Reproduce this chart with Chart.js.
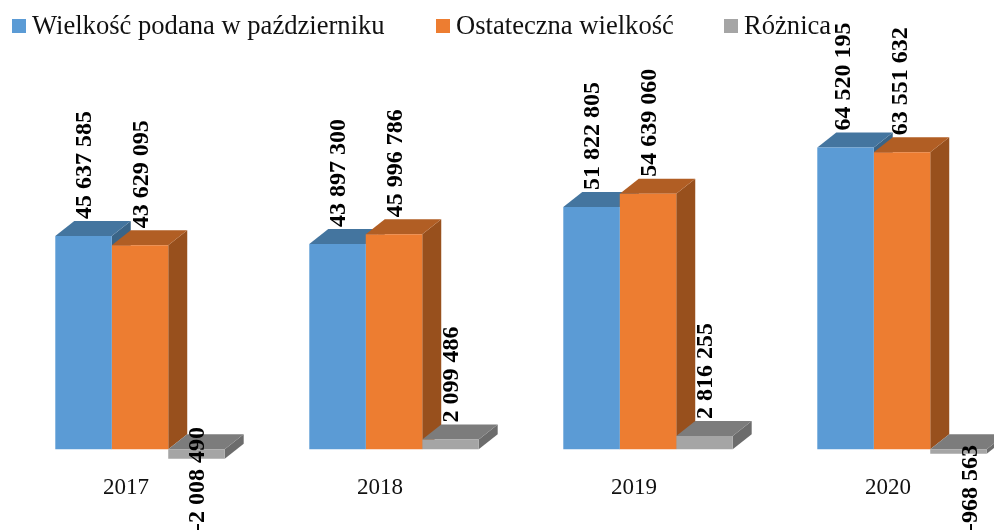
<!DOCTYPE html>
<html>
<head>
<meta charset="utf-8">
<style>html,body{margin:0;padding:0;background:#fff;overflow:hidden}#w{width:994px;height:530px}</style>
<script src="https://cdn.jsdelivr.net/npm/chart.js@4"></script>
</head>
<body>
<div id="w"><canvas id="c" width="994" height="530"></canvas></div>
<script>
const categories = ['2017', '2018', '2019', '2020'];
const seriesNames = ['Wielkość podana w październiku', 'Ostateczna wielkość', 'Różnica'];
const october = [45637585, 43897300, 51822805, 64520195];
const finalSize = [43629095, 45996786, 54639060, 63551632];
const difference = [-2008490, 2099486, 2816255, -968563];

const SERIF = '"Liberation Serif", "Times New Roman", serif';
const frontCols = ['#5B9BD5', '#ED7D31', '#A5A5A5'];
const topCols = ['#44759F', '#B15E24', '#7C7C7C'];
const sideCols = ['#3A6487', '#98501D', '#6C6C6C'];
const DX = 19, DY = 15;
const legendBoxX = [12, 436, 724];
const PLOT_RIGHT = 1029;

function fmt(v) {
  const s = String(Math.abs(v)).replace(/\B(?=(\d{3})+$)/g, ' ');
  return (v < 0 ? '-' : '') + s;
}
function poly(ctx, pts, col) {
  ctx.fillStyle = col;
  ctx.beginPath();
  pts.forEach((p, i) => i ? ctx.lineTo(p[0], p[1]) : ctx.moveTo(p[0], p[1]));
  ctx.closePath();
  ctx.fill();
}
function labelNudge(di, i) {
  if (i !== 3) return 1.5;
  return di === 2 ? 12 : -1.5;
}

const box3d = {
  id: 'box3d',
  afterLayout(chart) {
    // the plot runs past the right edge of the picture, as in the reference
    const x = chart.scales.x;
    x.right = PLOT_RIGHT;
    x.width = PLOT_RIGHT - x.left;
    x.configure();
  },
  beforeDatasetsDraw(chart) {
    const ctx = chart.ctx;
    ctx.save();
    chart.data.datasets.forEach((ds, di) => {
      chart.getDatasetMeta(di).data.forEach(bar => {
        const { x, y, base, width } = bar.getProps(['x', 'y', 'base', 'width'], true);
        const l = x - width / 2, r = x + width / 2;
        const t = Math.min(y, base), b = Math.max(y, base);
        poly(ctx, [[r, t], [r + DX, t - DY], [r + DX, b - DY], [r, b]], sideCols[di]);
        poly(ctx, [[l, t], [r, t], [r + DX, t - DY], [l + DX, t - DY]], topCols[di]);
      });
    });
    ctx.restore();
  },
  afterDatasetsDraw(chart) {
    const ctx = chart.ctx;
    ctx.save();
    ctx.fillStyle = '#000';
    ctx.font = 'bold 24px ' + SERIF;
    ctx.textBaseline = 'middle';
    ctx.textAlign = 'left';
    chart.data.datasets.forEach((ds, di) => {
      chart.getDatasetMeta(di).data.forEach((bar, i) => {
        const v = ds.data[i];
        const { x, y } = bar.getProps(['x', 'y'], true);
        const lx = x + labelNudge(di, i);
        const ly = v < 0 ? 531 : y - 17;
        ctx.save();
        ctx.translate(lx, ly);
        ctx.rotate(-Math.PI / 2);
        ctx.fillText(fmt(v), 0, 0);
        ctx.restore();
      });
    });
    // legend
    ctx.font = '26.6px ' + SERIF;
    ctx.textBaseline = 'alphabetic';
    chart.data.datasets.forEach((ds, di) => {
      ctx.fillStyle = frontCols[di];
      ctx.fillRect(legendBoxX[di], 19, 14, 14);
      ctx.fillStyle = '#111';
      ctx.fillText(ds.label, legendBoxX[di] + 20, 33.5);
    });
    ctx.restore();
  }
};

new Chart(document.getElementById('c'), {
  type: 'bar',
  data: {
    labels: categories,
    datasets: [
      { label: seriesNames[0], data: october, backgroundColor: frontCols[0] },
      { label: seriesNames[1], data: finalSize, backgroundColor: frontCols[1] },
      { label: seriesNames[2], data: difference, backgroundColor: frontCols[2] }
    ]
  },
  options: {
    responsive: false,
    animation: false,
    layout: { padding: { left: 13, right: 0, top: 122, bottom: 34 } },
    datasets: { bar: { barPercentage: 1, categoryPercentage: 0.667 } },
    plugins: { legend: { display: false }, tooltip: { enabled: false } },
    scales: {
      x: {
        position: { y: 0 },
        grid: { display: false },
        border: { display: false },
        ticks: {
          color: '#111',
          font: { family: SERIF, size: 23 },
          padding: 17,
          labelOffset: -14,
          maxRotation: 0,
          minRotation: 0,
          autoSkip: false
        }
      },
      y: { display: false, min: -10000000, max: 70000000 }
    }
  },
  plugins: [box3d]
});
</script>
</body>
</html>
